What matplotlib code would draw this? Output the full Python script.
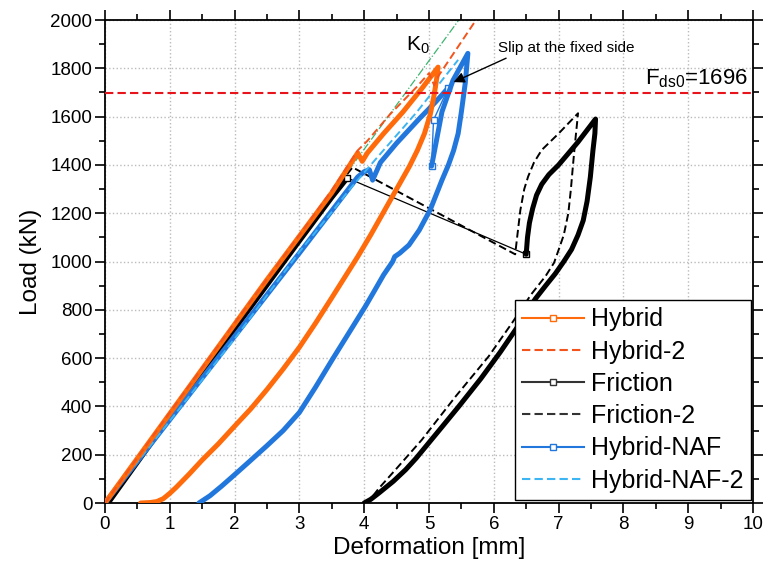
import matplotlib
matplotlib.use("Agg")
import matplotlib.pyplot as plt
from matplotlib.lines import Line2D

plt.rcParams['font.family'] = ['Liberation Sans', 'DejaVu Sans']
plt.rcParams['mathtext.fontset'] = 'custom'
plt.rcParams['mathtext.rm'] = 'Liberation Sans'
plt.rcParams['mathtext.it'] = 'Liberation Sans:italic'

# ---------------- data ----------------
hyb_x = [0.0, 0.5, 1.0, 1.5, 2.0, 2.5, 3.0, 3.5, 3.9, 3.97, 4.05, 4.3, 4.6, 4.9, 5.14,
         5.12, 5.08, 5.02, 4.93, 4.82, 4.7, 4.5, 4.3, 4.1, 3.9, 3.7, 3.5, 3.25, 3.0, 2.75,
         2.5, 2.25, 2.0, 1.75, 1.5, 1.3, 1.1, 1.0, 0.9, 0.8, 0.7, 0.55]
hyb_y = [0, 185, 370, 555, 740, 925, 1105, 1285, 1450, 1415, 1450, 1530, 1620, 1720, 1805,
         1760, 1690, 1610, 1530, 1460, 1395, 1300, 1205, 1110, 1020, 935, 850, 745, 645, 555,
         470, 390, 318, 245, 178, 120, 65, 40, 18, 6, 2, 0]

hyb2_x = [0.0, 1.0, 2.0, 3.0, 3.5, 3.9, 4.05, 4.4, 4.8, 5.0, 5.08, 5.15, 5.3, 5.75]
hyb2_y = [0, 375, 745, 1110, 1295, 1460, 1500, 1610, 1720, 1780, 1730, 1770, 1830, 2010]

fr_load_x = [0.05, 1.0, 2.0, 3.0, 3.5, 3.74]
fr_load_y = [0, 355, 720, 1085, 1265, 1346]
fr_slip_x = [3.74, 6.5]
fr_slip_y = [1346, 1030]
fr_cyc_x = [6.5, 6.52, 6.55, 6.6, 6.66, 6.74, 6.85, 7.0, 7.3, 7.57,
            7.56, 7.53, 7.49, 7.44, 7.38, 7.3, 7.2, 7.08, 6.95, 6.8, 6.64, 6.38, 6.1, 5.8,
            5.46, 5.2, 5.0, 4.8, 4.64, 4.45, 4.23, 4.1, 4.0]
fr_cyc_y = [1030, 1100, 1160, 1220, 1275, 1320, 1360, 1400, 1495, 1590,
            1530, 1460, 1350, 1250, 1170, 1110, 1050, 1000, 950, 900, 845, 735, 625, 515,
            400, 315, 250, 185, 138, 90, 42, 15, 0]

fr2_x = [0.0, 1.0, 2.0, 3.0, 3.5, 3.82, 6.33, 6.36, 6.41, 6.47, 6.53, 6.62, 6.74, 7.0, 7.3,
         7.28, 7.25, 7.22, 7.19, 7.15, 7.08, 7.0, 6.93, 6.8, 6.58, 6.28, 5.92, 5.41, 4.89,
         4.49, 4.23, 4.05]
fr2_y = [0, 365, 730, 1095, 1280, 1390, 1030, 1100, 1213, 1300, 1352, 1410, 1462, 1530, 1614,
         1560, 1480, 1393, 1300, 1200, 1110, 1048, 995, 940, 865, 745, 607, 441, 262,
         140, 62, 0]

naf_load_x = [0.0, 1.0, 2.0, 3.0, 3.5, 3.9, 4.0, 4.08, 4.13, 4.25, 4.5, 4.86, 5.1, 5.3]
naf_load_y = [0, 345, 690, 1035, 1210, 1350, 1372, 1380, 1337, 1410, 1490, 1594, 1660, 1720]
naf_slip_x = [5.3, 5.07, 5.04]
naf_slip_y = [1720, 1586, 1395]
naf_cyc_x = [5.04, 5.2, 5.37, 5.6, 5.56, 5.5, 5.45, 5.38, 5.3, 5.2, 5.02, 4.85, 4.69, 4.55,
             4.47, 4.44, 4.3, 4.15, 4.02, 3.8, 3.51, 3.25, 3.0, 2.75, 2.49, 2.2, 1.97, 1.8,
             1.62, 1.45]
naf_cyc_y = [1395, 1620, 1750, 1862, 1740, 1620, 1530, 1460, 1400, 1337, 1215, 1130, 1068, 1035,
             1020, 1000, 945, 875, 815, 720, 595, 480, 375, 300, 235, 165, 110, 70,
             30, 0]

naf2_x = [0.0, 1.0, 2.0, 3.0, 3.5, 3.77, 4.23, 4.8, 5.45]
naf2_y = [0, 340, 680, 1040, 1205, 1297, 1440, 1615, 1835]

k0_x = [0.0, 5.46]
k0_y = [0, 2000]

fds0 = 1696

labels = ['Hybrid', 'Hybrid-2', 'Friction', 'Friction-2', 'Hybrid-NAF', 'Hybrid-NAF-2']

c_hyb = '#FF6A0A'
c_hyb2 = '#F2541B'
c_fr = '#000000'
c_naf = '#2277DD'
c_naf2 = '#3DB5F2'
c_k0 = '#3CB46E'
c_red = '#E8141B'

# ---------------- figure ----------------
fig = plt.figure(figsize=(7.69, 5.76), dpi=100)
ax = fig.add_axes([0.1365, 0.1267, 0.8427, 0.8385])

thick = 3.6
jr = dict(solid_joinstyle='round', solid_capstyle='round')
ax.plot(k0_x, k0_y, color=c_k0, lw=0.9, ls='-.', zorder=2)
ax.plot(fr2_x, fr2_y, color=c_fr, lw=1.4, ls=(0, (4, 2)), zorder=3)
ax.plot(fr_load_x, fr_load_y, color=c_fr, lw=thick, zorder=3, **jr)
ax.plot(fr_slip_x, fr_slip_y, color=c_fr, lw=0.9, marker='s', ms=4, mfc='white', zorder=3)
ax.plot(fr_cyc_x, fr_cyc_y, color=c_fr, lw=thick, zorder=3, **jr)
ax.plot(naf_load_x, naf_load_y, color=c_naf, lw=thick, zorder=4, **jr)
ax.plot(naf_slip_x, naf_slip_y, color=c_naf, lw=1.0, marker='s', ms=4, mfc='white', zorder=4)
ax.plot(naf_cyc_x, naf_cyc_y, color=c_naf, lw=thick, zorder=4, **jr)
ax.plot(naf2_x, naf2_y, color=c_naf2, lw=1.4, ls=(0, (4, 2)), zorder=5)
ax.plot(hyb_x, hyb_y, color=c_hyb, lw=thick, zorder=5, **jr)
ax.plot(hyb2_x, hyb2_y, color=c_hyb2, lw=1.4, ls=(0, (4, 2)), zorder=6)
ax.axhline(fds0, color=c_red, lw=1.5, ls=(0, (4, 2)), zorder=6)

ax.set_xlim(0, 10)
ax.set_ylim(0, 2000)
ax.set_xticks(range(0, 11))
ax.set_yticks(range(0, 2001, 200))
ax.set_xticks([i + 0.5 for i in range(10)], minor=True)
ax.set_yticks(range(100, 2000, 200), minor=True)
ax.grid(True, which='major', ls=':', color='#BBBBBB', lw=1.0, zorder=0)
ax.set_axisbelow(True)
ax.tick_params(which='both', direction='out', top=True, right=True, labeltop=False,
               labelright=False, width=1.2, labelsize=13.5, pad=2)
ax.tick_params(which='major', length=7)
ax.tick_params(which='minor', length=4)
for s in ax.spines.values():
    s.set_linewidth(1.3)

ax.set_xlabel('Deformation [mm]', fontsize=17.5, labelpad=3)
ax.set_ylabel('Load (kN)', fontsize=17.5, labelpad=6)

ax.text(4.83, 1895, r'K$_0$', fontsize=15, ha='center', va='center')
ax.text(8.33, 1735, r'F$_{\mathregular{ds0}}$=1696', fontsize=16, ha='left', va='baseline')
ax.text(6.07, 1885, 'Slip at the fixed side', fontsize=11, ha='left', va='center', zorder=7)
ax.annotate('', xy=(5.38, 1743), xytext=(6.19, 1842),
            arrowprops=dict(arrowstyle='-|>', color='black', lw=1.0,
                            shrinkA=0, shrinkB=0, mutation_scale=16),
            zorder=7)

handles = [
    Line2D([], [], color=c_hyb, lw=1.5, marker='s', ms=4, mfc='white'),
    Line2D([], [], color=c_hyb2, lw=1.5, ls=(0, (4, 2))),
    Line2D([], [], color='#333333', lw=1.5, marker='s', ms=4, mfc='white'),
    Line2D([], [], color='#333333', lw=1.5, ls=(0, (4, 2))),
    Line2D([], [], color=c_naf, lw=1.5, marker='s', ms=4, mfc='white'),
    Line2D([], [], color=c_naf2, lw=1.5, ls=(0, (4, 2))),
]
leg = ax.legend(handles, labels, loc='lower right', bbox_to_anchor=(0.997, 0.006),
                fontsize=18, frameon=True, fancybox=False, framealpha=1,
                edgecolor='black', handlelength=2.45, handletextpad=0.3,
                labelspacing=0.33, borderpad=0.3, borderaxespad=0)
leg.get_frame().set_linewidth(1.0)
leg.set_zorder(10)

fig.savefig('out.png', dpi=100)
